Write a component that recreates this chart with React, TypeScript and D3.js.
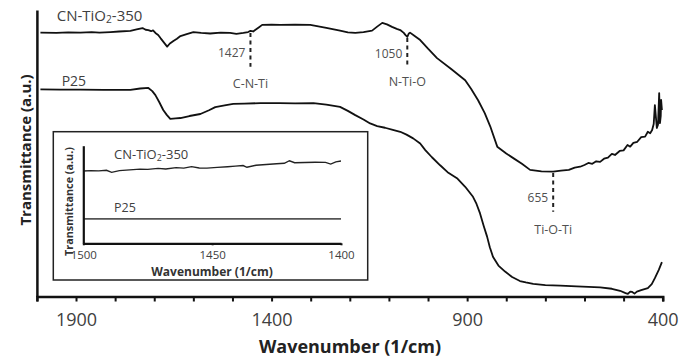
import React, { useEffect, useRef } from "react";
import * as d3 from "d3";

const width = 680;
const height = 358;

// main spectra: wavenumber (1/cm) and transmittance (a.u.)
const cnWave = [
  1991, 1950, 1920, 1889, 1860, 1840, 1812, 1790, 1761, 1745, 1730, 1722, 1715, 1708, 1703, 1697,
  1690, 1684, 1676, 1667, 1660, 1651, 1642, 1633, 1617, 1600, 1580, 1557, 1530, 1506, 1490, 1472,
  1460, 1454, 1447, 1442, 1432, 1424, 1400, 1378, 1340, 1301, 1260, 1225, 1205, 1186, 1165, 1143,
  1130, 1117, 1105, 1092, 1080, 1071, 1062, 1058, 1053, 1049, 1046, 1035, 1020, 1000, 977, 940,
  905, 890, 872, 855, 841, 823, 800, 782, 760, 739, 710, 680, 660, 640, 625, 611, 600, 590, 580,
  570, 560, 550, 540, 530, 522, 510, 500, 490, 483, 475, 465, 455, 445, 438, 432, 427, 423, 420,
  417, 415, 412, 409, 407, 405, 404, 402,
];
const cnT = [
  92.1, 92.0, 92.2, 92.1, 92.3, 92.1, 92.3, 92.5, 92.7, 93.2, 93.7, 93.1, 93.0, 92.6, 92.9, 92.0,
  91.3, 90.2, 88.8, 87.2, 88.3, 89.2, 90.0, 90.9, 91.6, 92.3, 92.0, 91.8, 92.1, 92.0, 91.7, 92.0,
  92.3, 92.7, 92.5, 93.0, 94.0, 94.8, 94.9, 94.8, 94.9, 94.8, 93.8, 92.8, 92.2, 92.0, 92.3, 92.8,
  94.2, 95.5, 95.0, 94.1, 93.4, 93.0, 92.0, 91.3, 90.6, 91.8, 92.1, 91.0, 89.5, 86.5, 83.2, 79.3,
  75.5, 72.5, 68.5, 64.0, 59.4, 52.3, 49.9, 48.3, 46.3, 44.2, 43.7, 43.6, 43.9, 44.2, 45.0, 45.3,
  45.9, 46.6, 46.3, 47.2, 47.0, 48.1, 48.5, 49.8, 49.4, 50.8, 51.0, 52.9, 52.3, 53.6, 54.0, 55.6,
  55.8, 57.5, 57.0, 58.1, 60.2, 66.8, 62.0, 58.8, 60.0, 71.0, 60.5, 63.0, 68.6, 65.1,
];
const p25Wave = [
  1991, 1940, 1889, 1830, 1761, 1736, 1715, 1705, 1697, 1687, 1677, 1668, 1659, 1645, 1633, 1610,
  1582, 1560, 1544, 1520, 1498, 1470, 1429, 1380, 1340, 1293, 1260, 1225, 1205, 1186, 1165, 1148,
  1130, 1110, 1090, 1071, 1055, 1038, 1020, 1007, 990, 969, 950, 926, 905, 885, 876, 867, 858, 849,
  842, 834, 820, 803, 785, 765, 750, 731, 700, 662, 620, 560, 530, 509, 495, 489, 483, 478, 472,
  466, 455, 438, 428, 420, 410, 402,
];
const p25T = [
  72.3, 72.2, 72.2, 72.1, 72.1, 72.6, 72.8, 71.7, 70.3, 67.8, 65.1, 63.4, 62.0, 62.2, 62.3, 63.0,
  63.7, 65.0, 66.1, 66.7, 67.2, 67.3, 67.5, 67.5, 67.4, 67.5, 67.0, 66.2, 64.8, 63.3, 61.8, 60.4,
  59.5, 58.9, 58.2, 57.5, 56.5, 55.2, 53.4, 51.1, 48.6, 45.8, 43.4, 41.3, 38.3, 34.8, 32.3, 29.0,
  24.8, 20.9, 17.2, 13.9, 10.8, 8.7, 6.8, 5.4, 4.9, 4.4, 4.0, 3.8, 3.5, 3.2, 2.7, 2.0, 1.2, 0.9,
  1.7, 1.6, 1.0, 1.7, 2.2, 2.9, 4.3, 6.4, 9.3, 12.0,
];

const xTicks = d3.range(2000, 399, -100);
const xLabels = [1900, 1400, 900, 400];

// peak markers
const peakWave = [1454, 1053, 680];
const peakText = ["1427", "1050", "655"];
const bondText = ["C-N-Ti", "N-Ti-O", "Ti-O-Ti"];
const peakTop = [92.0, 90.2, 43.1];
const peakBottom = [80.2, 80.2, 29.6];
const peakTextLevel = [85.1, 84.6, 34.6];
const bondLevel = [74.4, 75.0, 23.2];

// inset (zoom 1500-1400)
const insetWave = [
  1500, 1497, 1494, 1491, 1489, 1486, 1482, 1478, 1475, 1471, 1468, 1464, 1461, 1458, 1455, 1452,
  1448, 1444, 1441, 1438, 1436.5, 1433, 1429, 1425, 1422, 1420, 1418, 1414, 1410, 1406, 1404, 1402,
  1400,
];
const insetCnT = [
  0.741, 0.745, 0.742, 0.748, 0.727, 0.745, 0.752, 0.76, 0.757, 0.768, 0.762, 0.775, 0.77, 0.785,
  0.772, 0.77, 0.778, 0.785, 0.791, 0.797, 0.779, 0.8, 0.808, 0.815, 0.82, 0.846, 0.826, 0.828,
  0.83, 0.829, 0.812, 0.835, 0.843,
];
const insetP25Wave = [1500, 1400];
const insetP25T = [0.25, 0.25];
const insetTicks = [1500, 1450, 1400];

const font = "'Open Sans', sans-serif";

const x = d3.scaleLinear().domain([2000, 400]).range([36.9, 662.7]);
const y = d3.scaleLinear().domain([0, 100]).range([296.5, 10]);
const ix = d3.scaleLinear().domain([1500, 1400]).range([83.3, 341]);
const iy = d3.scaleLinear().domain([0, 1]).range([243.3, 145.7]);

const mainLine = (waves: number[]) =>
  d3
    .line<number>()
    .x((_, i) => x(waves[i]))
    .y((d) => y(d));
const insetLine = (waves: number[]) =>
  d3
    .line<number>()
    .x((_, i) => ix(waves[i]))
    .y((d) => iy(d));

const Formula = ({ size }: { size: number }) => (
  <>
    CN-TiO
    <tspan fontSize={size * 0.68} dy={2}>
      2
    </tspan>
    <tspan dy={-2}>-350</tspan>
  </>
);

export default function App() {
  const xRef = useRef<SVGGElement | null>(null);
  const yRef = useRef<SVGGElement | null>(null);
  const ixRef = useRef<SVGGElement | null>(null);
  const iyRef = useRef<SVGGElement | null>(null);

  useEffect(() => {
    const gx = d3.select(xRef.current!);
    gx.selectAll("*").remove();
    gx.call(
      d3
        .axisBottom(x)
        .tickValues(xTicks)
        .tickSize(5)
        .tickSizeOuter(5)
        .tickPadding(12)
        .tickFormat((d) => (xLabels.includes(+d) ? String(d) : "")),
    );
    gx.select(".domain").attr("stroke-width", 2.5);
    gx.selectAll(".tick line").attr("stroke-width", 2);
    gx.selectAll("text")
      .attr("fill", "#404040")
      .style("font-family", font)
      .style("font-size", "18px");

    const gy = d3.select(yRef.current!);
    gy.selectAll("*").remove();
    gy.call(d3.axisLeft(y).tickValues([]).tickSizeOuter(0));
    gy.select(".domain").attr("stroke-width", 2.5);

    const igx = d3.select(ixRef.current!);
    igx.selectAll("*").remove();
    igx.call(
      d3
        .axisBottom(ix)
        .tickValues(insetTicks)
        .tickSize(2)
        .tickSizeOuter(0)
        .tickPadding(5.5)
        .tickFormat((d) => String(d)),
    );
    igx.select(".domain").attr("stroke-width", 2.2);
    igx.selectAll(".tick line").attr("stroke-width", 2);
    igx.selectAll("text")
      .attr("fill", "#404040")
      .style("font-family", font)
      .style("font-size", "11.5px");

    const igy = d3.select(iyRef.current!);
    igy.selectAll("*").remove();
    igy.call(d3.axisLeft(iy).tickValues([]).tickSizeOuter(0));
    igy.select(".domain").attr("stroke-width", 2.2);
  }, []);

  return (
    <svg
      width={width}
      height={height}
      style={{ position: "fixed", left: 0, top: 0, background: "#fff" }}
      fontFamily={font}
    >
      <rect width={width} height={height} fill="#fff" />

      {/* spectra */}
      <path d={mainLine(cnWave)(cnT) ?? ""} fill="none" stroke="#111" strokeWidth={1.8} strokeLinejoin="round" />
      <path d={mainLine(p25Wave)(p25T) ?? ""} fill="none" stroke="#111" strokeWidth={1.8} strokeLinejoin="round" />

      <text x={56.7} y={20.7} fontSize={15} fill="#404040">
        <Formula size={15} />
      </text>
      <text x={61.7} y={85.5} fontSize={14} fill="#404040">
        P25
      </text>

      {/* peak markers */}
      {peakWave.map((w, i) => (
        <g key={i}>
          <line
            x1={x(w)}
            x2={x(w)}
            y1={y(peakTop[i])}
            y2={y(peakBottom[i])}
            stroke="#222"
            strokeWidth={2}
            strokeDasharray="4 3.5"
          />
          <text
            x={x(w) - 5}
            y={y(peakTextLevel[i])}
            dy="0.35em"
            textAnchor="end"
            fontSize={12}
            fill="#505050"
          >
            {peakText[i]}
          </text>
          <text x={x(w)} y={y(bondLevel[i])} dy="0.35em" textAnchor="middle" fontSize={12.5} fill="#505050">
            {bondText[i]}
          </text>
        </g>
      ))}

      {/* inset */}
      <rect x={53.3} y={131.7} width={314.4} height={148.3} fill="#fff" stroke="#222" strokeWidth={1.5} />
      <path d={insetLine(insetWave)(insetCnT) ?? ""} fill="none" stroke="#222" strokeWidth={1.4} />
      <path d={insetLine(insetP25Wave)(insetP25T) ?? ""} fill="none" stroke="#555" strokeWidth={1.6} />
      <g ref={iyRef} transform={`translate(${ix(1500)},0)`} color="#111" />
      <g ref={ixRef} transform={`translate(0,${iy(0)})`} color="#111" />
      <text x={114} y={159} fontSize={13} fill="#404040">
        <Formula size={13} />
      </text>
      <text x={114} y={212} fontSize={12.5} fill="#404040">
        P25
      </text>
      <text x={212} y={276} textAnchor="middle" fontSize={12} fontWeight="bold" fill="#333">
        Wavenumber (1/cm)
      </text>
      <text
        transform="translate(72.5,201.5) rotate(-90)"
        textAnchor="middle"
        fontSize={10.8}
        fontWeight="bold"
        fill="#333"
      >
        Transmittance (a.u.)
      </text>

      {/* main axes */}
      <g ref={yRef} transform={`translate(${x(2000)},0)`} color="#111" />
      <g ref={xRef} transform={`translate(0,${y(0)})`} color="#111" />
      <text x={350} y={352.5} textAnchor="middle" fontSize={18} fontWeight="bold" fill="#222">
        Wavenumber (1/cm)
      </text>
      <text
        transform="translate(30.5,150) rotate(-90)"
        textAnchor="middle"
        fontSize={15}
        fontWeight="bold"
        fill="#222"
      >
        Transmittance (a.u.)
      </text>
    </svg>
  );
}
